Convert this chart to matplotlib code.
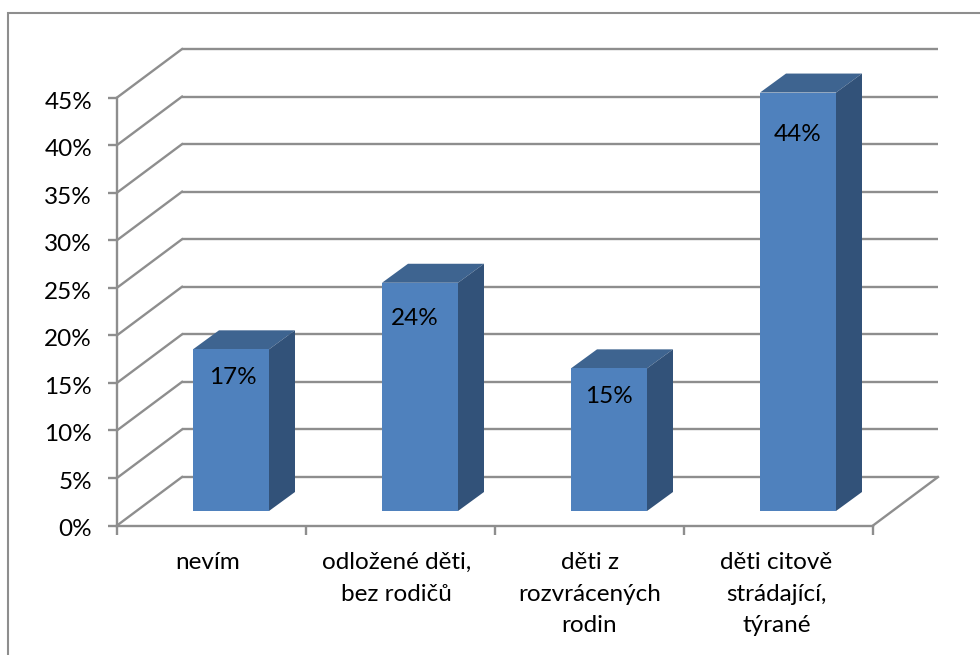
import matplotlib
matplotlib.use("Agg")
import matplotlib.pyplot as plt
from matplotlib.patches import Polygon, Rectangle

categories = ["nevím", "odložené děti,\nbez rodičů", "děti z\nrozvrácených\nrodin", "děti citově\nstrádající,\ntýrané"]
values = [17, 24, 15, 44]
ticks = [0, 5, 10, 15, 20, 25, 30, 35, 40, 45]

plt.rcParams['font.family'] = ['Lato', 'DejaVu Sans']

GRID = '#8e8e8e'
FRONT = '#4f81bd'
TOP = '#3e6490'
SIDE = '#325279'

# pixel sizes of the oblique projection
cat_px = 189.0
val_px = 9.51
x0_px, y0_px = 117.0, 525.5
W, H = 980, 655

fig = plt.figure(figsize=(W/100, H/100), dpi=100)
ax = fig.add_axes([0, 0, 1, 1])
ax.set_xlim(-x0_px/cat_px, (W-x0_px)/cat_px)
ax.set_ylim((y0_px-H)/val_px, y0_px/val_px)
ax.axis('off')

# depth of the walls and of the bars, in data units
wall_dx, wall_dy = 65/cat_px, 48.5/val_px
bar_dx, bar_dy = 26/cat_px, 19/val_px
bar_w = 76/cat_px
bar_x0 = 76/cat_px     # left edge of first bar from category start
bar_y0 = 14.5/val_px   # lift from the floor
n = len(categories)
lw = 1.7

# gridlines and diagonals
for t in ticks:
    ax.plot([wall_dx, n+wall_dx], [t+wall_dy, t+wall_dy], color=GRID, lw=lw, zorder=1, solid_capstyle='butt')
    ax.plot([0, wall_dx], [t, t+wall_dy], color=GRID, lw=lw, zorder=1)
    ax.plot([-9/cat_px, 0], [t, t], color=GRID, lw=lw, zorder=2, solid_capstyle='butt')
    ax.text(-25/cat_px, t-4.5/val_px, f"{t}%", ha='right', va='center', fontsize=17.5, color='black')

ax.plot([0, 0], [0, ticks[-1]], color=GRID, lw=lw, zorder=2)
ax.plot([0, n], [0, 0], color=GRID, lw=lw, zorder=2)
ax.plot([n, n+wall_dx], [0, wall_dy], color=GRID, lw=lw, zorder=1)
for i in range(n+1):
    ax.plot([i, i], [0, -9/val_px], color=GRID, lw=lw, zorder=2, solid_capstyle='butt')

# bars, data labels sit a bit unevenly in the original
label_drop = [28, 36, 28, 42]
label_shift = [2, -5, 0, 0]
for i, v in enumerate(values):
    l = i + bar_x0
    r = l + bar_w
    b = bar_y0
    t = bar_y0 + v
    ax.add_patch(Polygon([(l, t), (r, t), (r+bar_dx, t+bar_dy), (l+bar_dx, t+bar_dy)], fc=TOP, ec='none', zorder=3))
    ax.add_patch(Polygon([(r, b), (r+bar_dx, b+bar_dy), (r+bar_dx, t+bar_dy), (r, t)], fc=SIDE, ec='none', zorder=3))
    ax.add_patch(Rectangle((l, b), bar_w, v, fc=FRONT, ec='none', zorder=4))
    ax.text(l+bar_w/2+label_shift[i]/cat_px, t-label_drop[i]/val_px, f"{v}%", ha='center', va='center', fontsize=17.5, color='black', zorder=5)

# category labels
cat_shift = [-4, -4, 0, -2]
for i, c in enumerate(categories):
    ax.text(i+0.5+cat_shift[i]/cat_px, -26.5/val_px, c, ha='center', va='top', fontsize=17.5, color='black', linespacing=1.63)

# outer frame, runs off the bottom and right of the picture
fig.add_artist(Rectangle((7.5/W, -0.02), 1.02, 1.02-12.5/H, transform=fig.transFigure, fc='none', ec=GRID, lw=1.5))

fig.savefig("out.png", dpi=100)
